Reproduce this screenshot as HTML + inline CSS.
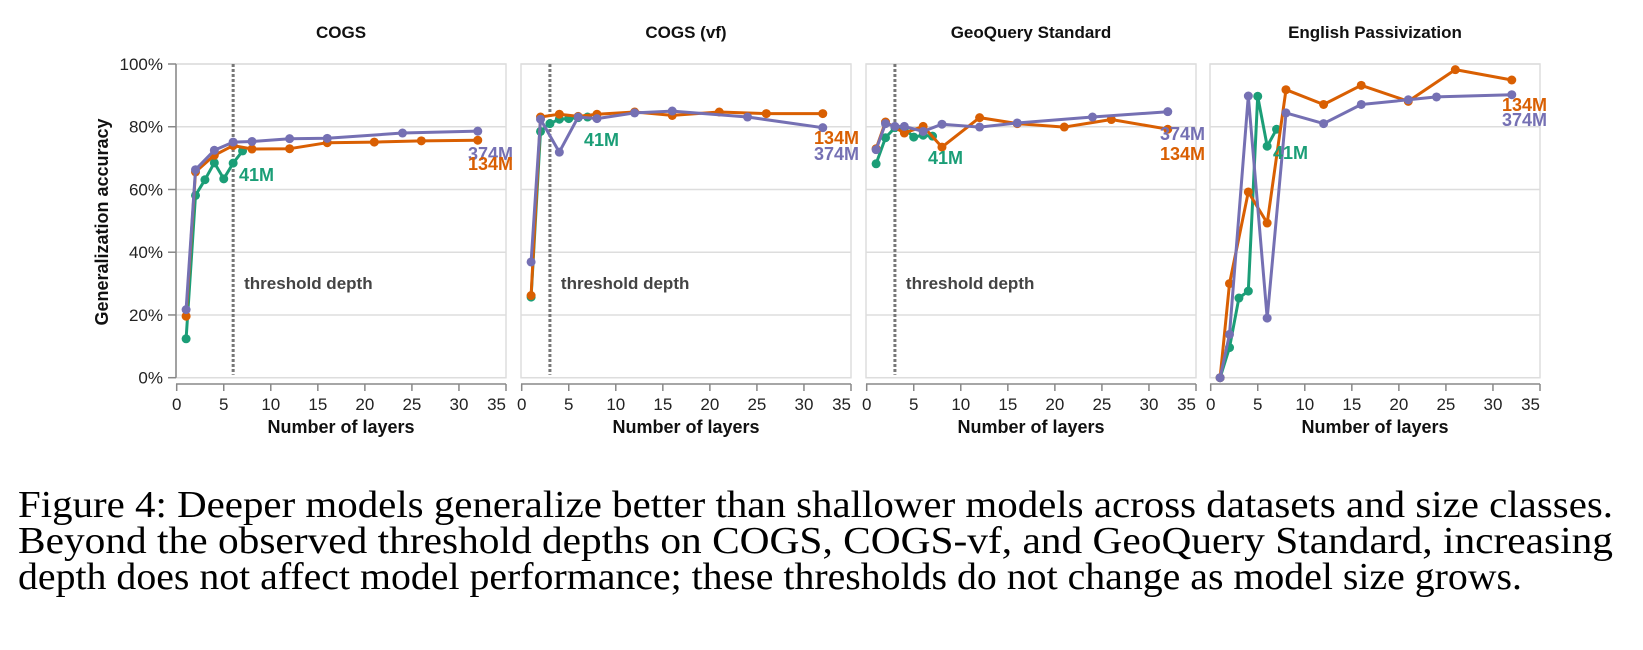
<!DOCTYPE html>
<html><head><meta charset="utf-8"><style>
html,body{margin:0;padding:0;background:#fff;}
svg{display:block;}
</style></head><body>
<svg id="fig" width="1643" height="650" xmlns="http://www.w3.org/2000/svg" font-family="Liberation Sans, sans-serif">
<text x="0" y="0" transform="translate(108,222) rotate(-90)" text-anchor="middle" font-weight="bold" font-size="18" fill="#111">Generalization accuracy</text>
<g id="panels"></g>
<g font-family="Liberation Serif, serif" font-size="38" fill="#000">
<text x="18" y="517" textLength="1595" lengthAdjust="spacingAndGlyphs">Figure 4: Deeper models generalize better than shallower models across datasets and size classes.</text>
<text x="18" y="553" textLength="1595" lengthAdjust="spacingAndGlyphs">Beyond the observed threshold depths on COGS, COGS-vf, and GeoQuery Standard, increasing</text>
<text x="18" y="589" textLength="1504" lengthAdjust="spacingAndGlyphs">depth does not affect model performance; these thresholds do not change as model size grows.</text>
</g>
</svg>
<script>
const titles = ["COGS","COGS (vf)","GeoQuery Standard","English Passivization"];
const thresholds = [6,3,3,null];
const xTicks = [0,5,10,15,20,25,30,35];
const yTicks = [0,20,40,60,80,100];
const layers374 = [[1,2,4,6,8,12,16,24,32],[1,2,4,6,8,12,16,24,32],[1,2,3,4,6,8,12,16,24,32],[1,2,4,6,8,12,16,21,24,32]];
const acc374 = [[21.7,66.3,72.5,75.1,75.3,76.2,76.3,78,78.6],[36.9,82.4,71.9,83.1,82.6,84.4,85,83.1,79.7],[72.7,81,80.1,80.1,78.5,80.8,79.9,81.2,83.1,84.8],[0,13.8,89.8,19,84.4,81,87.1,88.6,89.5,90.2]];
const layers134 = [[1,2,4,6,8,12,16,21,26,32],[1,2,4,6,8,12,16,21,26,32],[1,2,4,6,8,12,16,21,26,32],[1,2,4,6,8,12,16,21,26,32]];
const acc134 = [[19.6,65.6,70.9,74,72.9,73,74.9,75.1,75.5,75.7],[26.2,83.1,84,83.3,84,84.7,83.6,84.7,84.2,84.2],[73,81.5,78,80.1,73.5,82.9,81,79.9,82.3,79.2],[0,30,59.2,49.3,91.8,87.1,93.2,88.1,98.2,94.9]];
const layers41 = [[1,2,3,4,5,6,7],[1,2,3,4,5,6,7],[1,2,3,4,5,6,7],[1,2,3,4,5,6,7]];
const acc41 = [[12.4,58.1,63.1,68.5,63.4,68.4,72.3],[25.7,78.5,81,82.4,82.6,82.9,83.1],[68.2,76.5,79.7,79.5,76.7,77.3,77],[0,9.6,25.4,27.6,89.7,73.8,79.2]];

const NS="http://www.w3.org/2000/svg";
const panelLeft=[176,521,866,1210], PW=330, TOP=64, BOT=377.7;
const C={o:"#d95f02",p:"#7570b3",g:"#1b9e77"};
const root=document.getElementById('panels');
function mk(tag,attrs,parent,txt){const e=document.createElementNS(NS,tag);for(const k in attrs)e.setAttribute(k,attrs[k]);if(txt!=null)e.textContent=txt;parent.appendChild(e);return e;}
const lab374=[[468,154,"start"],[859,154,"end"],[1205,134,"end"],[1502,120,"start"]];
const lab134=[[468,164,"start"],[859,138,"end"],[1205,154,"end"],[1502,105,"start"]];
const lab41=[[239,175],[584,140],[928,158],[1273,153]];
for(let p=0;p<4;p++){
  const L=panelLeft[p];
  const xs=v=>L+0.7+v*(PW-0.7)/35;
  const ys=v=>BOT-v*(BOT-TOP)/100;
  const g=mk('g',{},root);
  
  
  const t=mk('text',{x:L+PW/2,y:38,'text-anchor':'middle','font-weight':'bold','font-size':17,fill:'#111'},g,titles[p]);
  
  
  yTicks.forEach(v=>{const l=mk('line',{x1:L,x2:L+PW,y1:ys(v),y2:ys(v),stroke:'#ddd','stroke-width':1.5},g);
    
    });
  const fr=mk('rect',{x:L,y:TOP,width:PW,height:BOT-TOP,fill:'none',stroke:'#ddd','stroke-width':1.5},g);
  
  
  const xa=mk('line',{x1:L,x2:L+PW,y1:384,y2:384,stroke:'#888','stroke-width':1.5},g);
  
  
  xTicks.forEach(v=>{const tk=mk('line',{x1:xs(v),x2:xs(v),y1:384,y2:391,stroke:'#888','stroke-width':1.5},g);
    
    
    const tl=mk('text',{x:xs(v),y:410,'text-anchor':v===35?'end':'middle','font-size':17,fill:'#222'},g,String(v));
    
    });
  const xt=mk('text',{x:L+PW/2,y:433,'text-anchor':'middle','font-weight':'bold','font-size':18,fill:'#111'},g,'Number of layers');
  
  
  if(p===0){
    const ya=mk('line',{x1:L,x2:L,y1:TOP,y2:BOT,stroke:'#888','stroke-width':1.5},g);
    
    
    yTicks.forEach(v=>{const tk=mk('line',{x1:L-8,x2:L,y1:ys(v),y2:ys(v),stroke:'#888','stroke-width':1.5},g);
      
      
      const tl=mk('text',{x:L-13,y:ys(v)+6,'text-anchor':'end','font-size':17,fill:'#222'},g,v+'%');
      
      });
  }
  if(thresholds[p]!=null){
    const th=mk('line',{x1:xs(thresholds[p]),x2:xs(thresholds[p]),y1:TOP,y2:BOT-3,stroke:'#777','stroke-width':3,'stroke-dasharray':'3 2'},g);
    
    
    const tt=mk('text',{x:xs(thresholds[p])+11,y:289,'font-weight':'bold','font-size':17,fill:'#444'},g,'threshold depth');
    
    
  }
  const series=[[layers41[p],acc41[p],C.g,'41m'],[layers134[p],acc134[p],C.o,'134m'],[layers374[p],acc374[p],C.p,'374m']];
  series.forEach(([X,Y,col,nm])=>{
    const pts=X.map((x,i)=>xs(x).toFixed(1)+','+ys(Y[i]).toFixed(1)).join(' ');
    const pl=mk('polyline',{points:pts,fill:'none',stroke:col,'stroke-width':3,'stroke-linejoin':'round'},g);
    
    
    X.forEach((x,i)=>{const c=mk('circle',{cx:xs(x),cy:ys(Y[i]),r:4.5,fill:col},g);
      
      });
  });
  const a=lab374[p],b=lab134[p],c=lab41[p];
  const t1=mk('text',{x:a[0],y:a[1]+6,'text-anchor':a[2],'font-weight':'bold','font-size':18,fill:C.p},g,'374M');
  
  
  const t2=mk('text',{x:b[0],y:b[1]+6,'text-anchor':b[2],'font-weight':'bold','font-size':18,fill:C.o},g,'134M');
  
  
  const t3=mk('text',{x:c[0],y:c[1]+6,'font-weight':'bold','font-size':18,fill:C.g},g,'41M');
  
  
}
</script>
</body></html>
